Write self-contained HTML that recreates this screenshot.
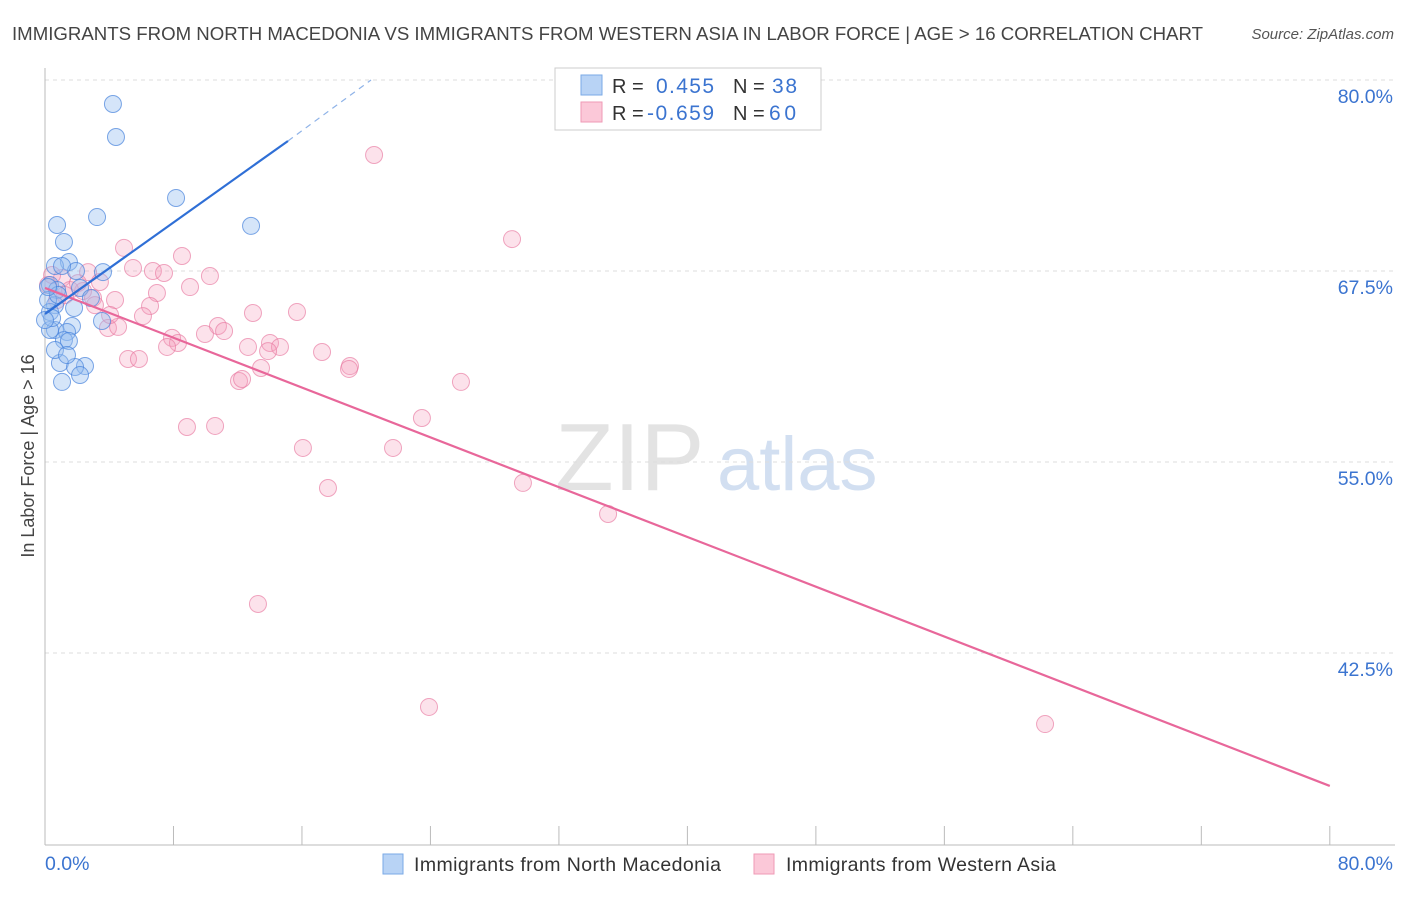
<!DOCTYPE html>
<html><head><meta charset="utf-8">
<style>
body{margin:0;background:#fff;font-family:"Liberation Sans",sans-serif;}
svg text{font-family:"Liberation Sans",sans-serif;}
</style></head>
<body>
<svg id="chart" width="1406" height="892" viewBox="0 0 1406 892" xmlns="http://www.w3.org/2000/svg">
<text x="12" y="40" font-size="18.5" fill="#444" textLength="1191" lengthAdjust="spacingAndGlyphs">IMMIGRANTS FROM NORTH MACEDONIA VS IMMIGRANTS FROM WESTERN ASIA IN LABOR FORCE | AGE &gt; 16 CORRELATION CHART</text>
<text x="1394" y="39" font-size="15" fill="#555" font-style="italic" text-anchor="end">Source: ZipAtlas.com</text>
<g>
<text x="555" y="490" font-size="96" fill="#ddd" font-family="Liberation Serif,serif" opacity="0.8">ZIP</text>
<text x="717" y="490" font-size="76" fill="#c8d8ee" opacity="0.8">atlas</text>
</g>
<g id="grid"></g>
<line x1="45" y1="68" x2="45" y2="845" stroke="#bbb" stroke-width="1"/>
<line x1="45" y1="845" x2="1395" y2="845" stroke="#bbb" stroke-width="1"/>
<g id="ticks"></g>
<text transform="translate(34,456) rotate(-90)" font-size="18" fill="#444" text-anchor="middle">In Labor Force | Age &gt; 16</text>
<text x="45" y="870" font-size="19.5" fill="#3b74d0">0.0%</text>
<text x="1393" y="870" font-size="19.5" fill="#3b74d0" text-anchor="end">80.0%</text>
<g id="points"></g>
<g id="lines"></g>
<g>
<rect x="555" y="68" width="266" height="62" fill="#fff" stroke="#ccc"/>
<rect x="581" y="75" width="21" height="20" fill="#b8d3f5" stroke="#7aaae6"/>
<rect x="581" y="102" width="21" height="20" fill="#fbc8d8" stroke="#ef9ab6"/>
<text x="612" y="93" font-size="20" fill="#333">R =</text>
<text x="656" y="93" font-size="21" fill="#3b74d0" textLength="58">0.455</text>
<text x="733" y="93" font-size="20" fill="#333">N =</text>
<text x="772" y="93" font-size="21" fill="#3b74d0" textLength="25">38</text>
<text x="612" y="120" font-size="20" fill="#333">R =</text>
<text x="647" y="120" font-size="21" fill="#3b74d0" textLength="67">-0.659</text>
<text x="733" y="120" font-size="20" fill="#333">N =</text>
<text x="769" y="120" font-size="21" fill="#3b74d0" textLength="27">60</text>
</g>
<g>
<rect x="383" y="854" width="20" height="20" fill="#b8d3f5" stroke="#7aaae6"/>
<text x="414" y="871" font-size="19.5" fill="#333" textLength="307">Immigrants from North Macedonia</text>
<rect x="754" y="854" width="20" height="20" fill="#fbc8d8" stroke="#ef9ab6"/>
<text x="786" y="871" font-size="19.5" fill="#333" textLength="270">Immigrants from Western Asia</text>
</g>
</svg>
<script>
const yTicks=[80,67.5,55,42.5];
const yTickLabels=["80.0%","67.5%","55.0%","42.5%"];
const xTicks=[0,8,16,24,32,40,48,56,64,72,80];
const blueX=[4.23,4.42,8.16,3.24,12.83,0.75,1.18,1.49,0.62,1.93,3.61,1.06,0.31,0.75,2.18,2.86,0.62,1.81,0.31,3.55,1.68,0.62,1.37,0.31,1.18,1.49,0.93,2.49,1.87,1.06,2.18,0.19,0.44,0.81,0,0.62,1.37,0.19];
const blueY=[78.43,76.27,72.28,71.03,70.45,70.51,69.40,68.09,67.83,67.50,67.43,67.83,66.58,66.26,66.39,65.73,65.27,65.08,64.82,64.23,63.90,63.64,63.51,63.64,62.98,62.92,61.48,61.28,61.22,60.24,60.69,65.60,64.42,65.93,64.29,62.33,62.00,66.45];
const pinkX=[20.49,29.08,4.92,8.53,10.27,5.48,6.72,7.41,9.03,1.06,2.68,3.42,2.37,6.97,2.99,4.36,6.54,6.10,12.95,15.69,10.77,11.15,9.96,7.91,8.28,7.60,12.64,14.01,14.63,13.89,17.25,18.99,18.93,13.45,12.08,12.27,25.90,5.17,5.85,23.47,8.84,10.59,16.06,21.67,29.76,17.62,35.06,13.26,23.91,62.27,3.92,4.55,1.56,0.75,0.19,2.05,1.25,4.05,0.44,3.11];
const pinkY=[75.09,69.59,69.01,68.48,67.17,67.70,67.50,67.37,66.45,67.04,67.43,66.78,66.19,66.06,65.73,65.60,65.21,64.55,64.75,64.82,63.90,63.57,63.38,63.12,62.79,62.53,62.53,62.79,62.53,62.26,62.20,61.28,61.09,61.15,60.30,60.43,60.24,61.74,61.74,57.88,57.29,57.36,55.92,55.92,53.63,53.30,51.60,45.71,38.97,37.85,63.77,63.84,66.26,65.60,66.58,66.71,65.93,64.62,67.24,65.27];
const blueTrend=[64.69,76.01,80.0];
const blueTrendX=[0,15.13,20.3];
const pinkTrend=[66.39,33.8];
const pinkTrendX=[0,80];

const NS="http://www.w3.org/2000/svg";
function sx(v){return 45+v*16.06;}
function sy(v){return 80+(80-v)*15.28;}
function mk(tag,attrs,parent){const e=document.createElementNS(NS,tag);for(const k in attrs)e.setAttribute(k,attrs[k]);parent.appendChild(e);return e;}
const grid=document.getElementById('grid');
yTicks.forEach((t,i)=>{
  const l=mk('line',{x1:45,x2:1394,y1:sy(t),y2:sy(t),stroke:'#ddd','stroke-dasharray':'4,4'},grid);
  
  
  const tx=mk('text',{x:1393,y:sy(t)+23,'font-size':19.5,fill:'#3b74d0','text-anchor':'end'},grid);
  tx.textContent=yTickLabels[i];
  
  
});
const ticks=document.getElementById('ticks');
xTicks.forEach(t=>{
  const l=mk('line',{x1:sx(t),x2:sx(t),y1:826,y2:845,stroke:'#bbb'},ticks);
  
  
});
const pts=document.getElementById('points');
pinkX.forEach((x,i)=>{
  const c=mk('circle',{cx:sx(x),cy:sy(pinkY[i]),r:8.5,fill:'rgba(244,160,190,0.3)',stroke:'rgba(232,120,160,0.65)','stroke-width':1},pts);
  
  
});
blueX.forEach((x,i)=>{
  const c=mk('circle',{cx:sx(x),cy:sy(blueY[i]),r:8.5,fill:'rgba(150,190,240,0.4)',stroke:'rgba(70,130,220,0.7)','stroke-width':1},pts);
  
  
});
const lines=document.getElementById('lines');
const pl=mk('line',{x1:sx(pinkTrendX[0]),y1:sy(pinkTrend[0]),x2:sx(pinkTrendX[1]),y2:sy(pinkTrend[1]),stroke:'#e8679a','stroke-width':2.2},lines);


const bl=mk('line',{x1:sx(blueTrendX[0]),y1:sy(blueTrend[0]),x2:sx(blueTrendX[1]),y2:sy(blueTrend[1]),stroke:'#2f6fd6','stroke-width':2.2},lines);


const bd=mk('line',{x1:sx(blueTrendX[1]),y1:sy(blueTrend[1]),x2:sx(blueTrendX[2]),y2:sy(blueTrend[2]),stroke:'#8fb3e8','stroke-width':1.2,'stroke-dasharray':'6,5'},lines);


</script>
</body></html>
